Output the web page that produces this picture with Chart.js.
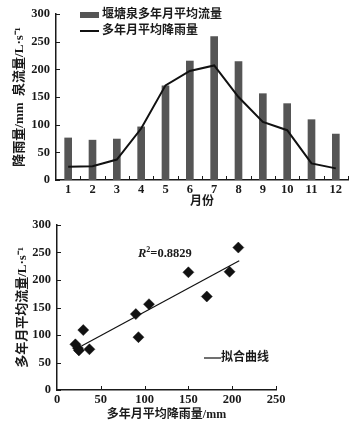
<!DOCTYPE html>
<html><head><meta charset="utf-8">
<script src="https://cdn.jsdelivr.net/npm/chart.js@4/dist/chart.umd.min.js"></script>
<style>
html,body{margin:0;padding:0;background:#fff;width:355px;height:427px;overflow:hidden}
.box{position:absolute;left:0;width:355px}
</style></head><body>
<div class="box" style="top:0;height:210px"><canvas id="c1"></canvas></div>
<div class="box" style="top:210px;height:217px"><canvas id="c2"></canvas></div>
<script>
// ---- data ----
const months = ['1','2','3','4','5','6','7','8','9','10','11','12'];
const springFlow = [76,72,74,96,170,215,259,214,156,138,109,83];   // L/s
const rainfall   = [24,25,37,93,171,197,207,150,105,90,30,21];     // mm
const flowLabel = '堰塘泉多年月平均流量';
const rainLabel = '多年月平均降雨量';
const trendX = [28, 208];
const trendY = [80, 235];
const fitLabel = '拟合曲线';
const r2Value = '0.8829';

const SERIF = "'Liberation Serif','Noto Sans CJK SC',serif";
const CJK = "'Liberation Serif','Noto Sans CJK SC',sans-serif";
const INK = '#1a1a1a';
Chart.defaults.color = INK;
Chart.defaults.animation = false;

const inwardTicks = {
  id: 'inwardTicks',
  afterDatasetsDraw(chart, args, opts) {
    const ctx = chart.ctx, a = chart.chartArea;
    const xs = chart.scales.x, ys = chart.scales.y;
    ctx.save();
    ctx.strokeStyle = INK; ctx.lineWidth = 1;
    ys.ticks.forEach((t, i) => {
      const y = Math.round(ys.getPixelForTick(i)) + 0.5;
      ctx.beginPath(); ctx.moveTo(a.left, y); ctx.lineTo(a.left + 4, y); ctx.stroke();
    });
    let xp = [];
    if (opts.between) {
      const n = xs.ticks.length;
      const sp = xs.getPixelForTick(1) - xs.getPixelForTick(0);
      const c0 = xs.getPixelForTick(0) - sp / 2;
      for (let i = 1; i <= n; i++) xp.push(c0 + i * sp);
    } else {
      xs.ticks.forEach((t, i) => { if (i > 0) xp.push(xs.getPixelForTick(i)); });
    }
    xp.forEach(x => {
      x = Math.round(x) + 0.5;
      ctx.beginPath(); ctx.moveTo(x, a.bottom); ctx.lineTo(x, a.bottom - 4); ctx.stroke();
    });
    ctx.restore();
  }
};

const topLegend = {
  id: 'topLegend',
  afterDraw(chart) {
    const ctx = chart.ctx;
    ctx.save();
    ctx.fillStyle = '#555';
    ctx.fillRect(80, 12, 19, 6);
    ctx.strokeStyle = '#111'; ctx.lineWidth = 2;
    ctx.beginPath(); ctx.moveTo(80, 31); ctx.lineTo(99, 31); ctx.stroke();
    ctx.fillStyle = INK;
    ctx.font = 'bold 12px ' + CJK;
    ctx.textBaseline = 'middle';
    ctx.fillText(flowLabel, 102, 15);
    ctx.fillText(rainLabel, 102, 31);
    ctx.restore();
  }
};

const bottomNotes = {
  id: 'bottomNotes',
  afterDraw(chart) {
    const ctx = chart.ctx;
    ctx.save();
    ctx.strokeStyle = '#111'; ctx.lineWidth = 1.2;
    ctx.beginPath(); ctx.moveTo(204, 148); ctx.lineTo(221, 148); ctx.stroke();
    ctx.fillStyle = INK;
    ctx.textBaseline = 'middle';
    ctx.font = 'bold 12px ' + CJK;
    ctx.fillText(fitLabel, 221, 148);
    let x = 138, y = 44;
    ctx.font = 'italic bold 12.5px ' + SERIF;
    ctx.fillText('R', x, y); x += ctx.measureText('R').width;
    ctx.font = 'bold 8px ' + SERIF;
    ctx.fillText('2', x, y - 4); x += ctx.measureText('2').width;
    ctx.font = 'bold 12.5px ' + SERIF;
    ctx.fillText('=' + r2Value, x, y);
    ctx.restore();
  }
};

const tickFont = { family: SERIF, size: 12.5, weight: 'bold' };
const titleFont = { family: CJK, size: 12, weight: 'bold' };
const yTitleFont = { family: CJK, size: 13, weight: 'bold' };
const border = { display: true, color: INK, width: 1.5 };

new Chart(document.getElementById('c1'), {
  data: {
    labels: months,
    datasets: [
      { type: 'line', label: rainLabel, data: rainfall, borderColor: '#111', borderWidth: 2,
        pointRadius: 0, tension: 0, order: 0 },
      { type: 'bar', label: flowLabel, data: springFlow, backgroundColor: '#555',
        barThickness: 7, order: 1 }
    ]
  },
  options: {
    responsive: true, maintainAspectRatio: false,
    layout: { padding: { top: 14, right: 7, left: 0, bottom: 0 } },
    plugins: { legend: { display: false }, tooltip: { enabled: false }, inwardTicks: { between: true } },
    scales: {
      x: {
        offset: true,
        grid: { display: false, drawTicks: false },
        border: border,
        ticks: { font: tickFont, padding: 2, maxRotation: 0 },
        title: { display: true, text: '月份', font: titleFont, padding: { top: 0, bottom: 1 } },
        afterFit(s) { s.height = 30; }
      },
      y: {
        min: 0, max: 300,
        grid: { display: false, drawTicks: false },
        border: border,
        ticks: { font: tickFont, stepSize: 50, padding: 6 },
        title: { display: true, text: '降雨量/mm  泉流量/L·s⁻¹', font: yTitleFont, padding: { top: 12, bottom: 0 } },
        afterFit(s) { s.width = 56; }
      }
    }
  },
  plugins: [inwardTicks, topLegend]
});

const points = rainfall.map((r, i) => ({ x: r, y: springFlow[i] }));
const trend = trendX.map((x, i) => ({ x: x, y: trendY[i] }));

new Chart(document.getElementById('c2'), {
  type: 'scatter',
  data: {
    datasets: [
      { label: '月平均', data: points, pointStyle: 'rectRot', pointRadius: 5.5,
        backgroundColor: '#111', borderColor: '#111', borderWidth: 0.5, order: 0 },
      { type: 'line', label: fitLabel, data: trend, showLine: true, borderColor: '#111',
        borderWidth: 1.2, pointRadius: 0, order: 1 }
    ]
  },
  options: {
    responsive: true, maintainAspectRatio: false,
    layout: { padding: { top: 15, right: 79, left: 0, bottom: 0 } },
    plugins: { legend: { display: false }, tooltip: { enabled: false }, inwardTicks: { between: false } },
    scales: {
      x: {
        type: 'linear', min: 0, max: 250,
        grid: { display: false, drawTicks: false },
        border: border,
        ticks: { font: tickFont, stepSize: 50, padding: 2, maxRotation: 0 },
        title: { display: true, text: '多年月平均降雨量/mm', font: titleFont, padding: { top: 0, bottom: 5 } },
        afterFit(s) { s.height = 37; }
      },
      y: {
        min: 0, max: 300,
        grid: { display: false, drawTicks: false },
        border: border,
        ticks: { font: tickFont, stepSize: 50, padding: 6 },
        title: { display: true, text: '多年月平均流量/L·s⁻¹', font: yTitleFont, padding: { top: 15, bottom: 0 } },
        afterFit(s) { s.width = 57; }
      }
    }
  },
  plugins: [inwardTicks, bottomNotes]
});
</script>
</body></html>
